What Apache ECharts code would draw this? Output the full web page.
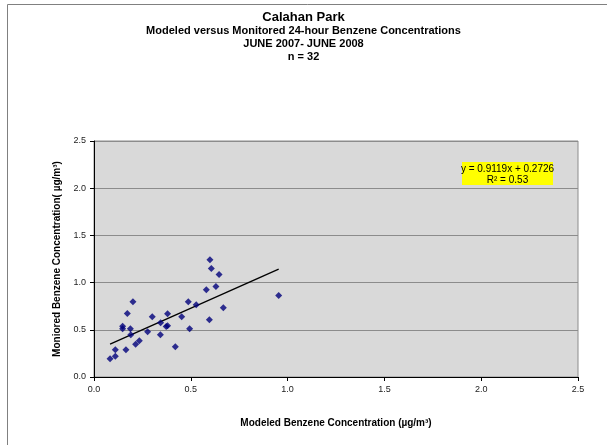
<!DOCTYPE html>
<html>
<head>
<meta charset="utf-8">
<script src="https://cdn.jsdelivr.net/npm/echarts@6/dist/echarts.min.js"></script>
<style>
html,body{margin:0;padding:0;background:#fff;}
#c{width:607px;height:445px;}
</style>
</head>
<body>
<div id="c"></div>
<script>
const modeled = [0.083,0.110,0.110,0.165,0.148,0.148,0.172,0.188,0.190,0.201,0.215,0.234,0.277,0.301,0.343,0.344,0.373,0.380,0.380,0.420,0.453,0.487,0.494,0.528,0.580,0.596,0.599,0.606,0.630,0.646,0.668,0.954];
const monitored = [0.193,0.220,0.288,0.288,0.510,0.538,0.673,0.510,0.447,0.797,0.347,0.383,0.479,0.638,0.447,0.574,0.535,0.542,0.669,0.320,0.638,0.797,0.510,0.765,0.924,0.606,1.242,1.149,0.959,1.086,0.733,0.863];
const trendCoef = [0.9119, 0.2726];
const r2 = 0.53;
const axisTicks = [0.0, 0.5, 1.0, 1.5, 2.0, 2.5];
const titleLines = ['Calahan Park','Modeled versus Monitored 24-hour Benzene Concentrations','JUNE 2007- JUNE 2008','n = 32'];

const pts = modeled.map((x,i)=>[x, monitored[i]]);
const xmin = Math.min(...modeled), xmax = Math.max(...modeled);
const trend = [[xmin, trendCoef[0]*xmin+trendCoef[1]],[xmax, trendCoef[0]*xmax+trendCoef[1]]];
const FONT = '"Liberation Sans", Arial, sans-serif';

const chart = echarts.init(document.getElementById('c'), null, {renderer:'canvas'});
const fmt = v => v.toFixed(1);
chart.setOption({
  animation:false,
  backgroundColor:'#ffffff',
  grid:{left:94, top:141, right:29, bottom:68, show:true, backgroundColor:'#d9d9d9', borderColor:'#8c8c8c', borderWidth:1},
  xAxis:{type:'value', min:axisTicks[0], max:axisTicks[axisTicks.length-1], interval:0.5,
    name:'Modeled Benzene Concentration (µg/m³)', nameLocation:'middle', nameGap:41,
    nameTextStyle:{fontFamily:FONT, fontWeight:'bold', fontSize:10, color:'#000'},
    axisLine:{show:true, onZero:false, lineStyle:{color:'#000', width:1}},
    axisTick:{show:true, length:4, lineStyle:{color:'#000'}},
    axisLabel:{formatter:fmt, fontFamily:FONT, fontSize:9, color:'#222', margin:8},
    splitLine:{show:false}},
  yAxis:{type:'value', min:axisTicks[0], max:axisTicks[axisTicks.length-1], interval:0.5,
    name:'Moniored Benzene Concentration( µg/m³)', nameLocation:'middle', nameGap:32,
    nameTextStyle:{fontFamily:FONT, fontWeight:'bold', fontSize:10, color:'#000'},
    axisLine:{show:true, onZero:false, lineStyle:{color:'#000', width:1}},
    axisTick:{show:true, length:4, lineStyle:{color:'#000'}},
    axisLabel:{formatter:fmt, fontFamily:FONT, fontSize:9, color:'#222', margin:8},
    splitLine:{show:true, lineStyle:{color:'#8c8c8c', width:1}}},
  title:{text:titleLines[0], subtext:titleLines.slice(1).join('\n'), left:'center', top:6, itemGap:0,
    textStyle:{fontFamily:FONT, fontWeight:'bold', fontSize:13, color:'#000'},
    subtextStyle:{fontFamily:FONT, fontWeight:'bold', fontSize:11, color:'#000', lineHeight:13}},
  series:[
    {type:'scatter', data:pts, symbol:'diamond', symbolSize:7, itemStyle:{color:'#00007a'}, z:3},
    {type:'line', data:trend, symbol:'none', lineStyle:{color:'#000', width:1.3}, z:2}
  ],
  graphic:[
    {type:'rect', left:5, top:2, shape:{width:640, height:480}, style:{fill:'none', stroke:'#808080', lineWidth:1}, silent:true, z:-10},
    {type:'rect', left:462, top:162, shape:{width:91, height:23}, style:{fill:'#ffff00'}, z:10},
    {type:'text', style:{text:'y = '+trendCoef[0]+'x + '+trendCoef[1]+'\nR² = '+r2, x:507.5, y:164, textAlign:'center', textVerticalAlign:'top', fontFamily:FONT, fontSize:10, lineHeight:11, fill:'#000'}, z:11}
  ]
});
</script>
</body>
</html>
